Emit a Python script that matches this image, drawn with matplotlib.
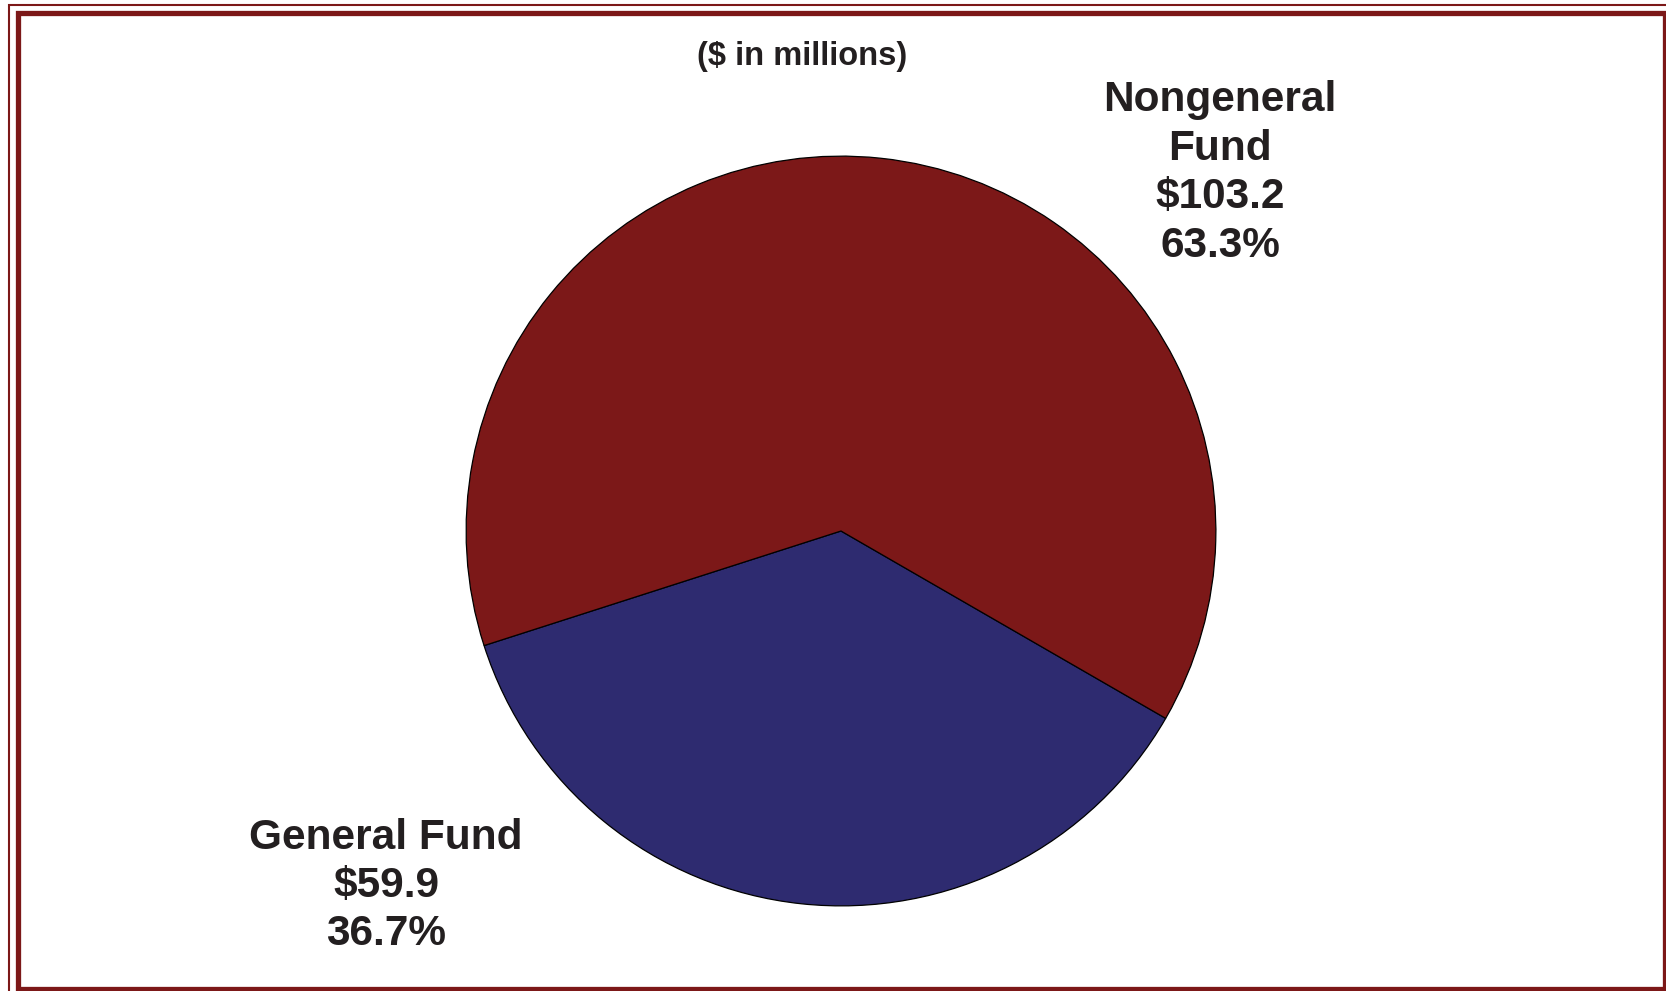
import matplotlib.pyplot as plt
from matplotlib.patches import Rectangle

plt.rcParams['font.family'] = ['Liberation Sans', 'DejaVu Sans']

# fund amounts, $ in millions
funds = ['General Fund', 'Nongeneral\nFund']
amounts = [59.9, 103.2]
colors = ['#2E2B70', '#7C1818']

W, H = 1666, 991
fig = plt.figure(figsize=(W / 100, H / 100), dpi=100)

# double maroon frame around the chart
fig.add_artist(Rectangle((9 / W, -0.1), 1.2, (H - 4.5) / H + 0.1, transform=fig.transFigure,
                         fill=False, ec='#7C1818', lw=1.5))
fig.add_artist(Rectangle((17.5 / W, 1 - 988.5 / H), (1664.5 - 17.5) / W, (988.5 - 13) / H,
                         transform=fig.transFigure, fill=False, ec='#7C1818', lw=3.8))

# pie centred at (841, 531) px with a 376 px radius
cx, cy, r = 841, 531, 376
ax = fig.add_axes([(cx - r) / W, (H - cy - r) / H, 2 * r / W, 2 * r / H])
ax.pie(amounts, colors=colors, startangle=197.8, counterclock=True,
       wedgeprops=dict(edgecolor='black', linewidth=0.9))
ax.set_xlim(-1.003, 1.003)
ax.set_ylim(-1.003, 1.003)
ax.axis('off')

total = sum(amounts)
labels = [f'{n}\n${v:.1f}\n{v / total * 100:.1f}%' for n, v in zip(funds, amounts)]
label_pos = [(386, 886), (1220, 173)]
for txt, (x, y) in zip(labels, label_pos):
    fig.text(x / W, 1 - y / H, txt, ha='center', va='center', fontsize=30.5,
             fontweight='bold', color='#231F20', linespacing=1.27)

fig.text(802 / W, 1 - 57 / H, '($ in millions)', ha='center', va='center',
         fontsize=23.5, fontweight='bold', color='#231F20')

fig.savefig('out.png', dpi=100)
